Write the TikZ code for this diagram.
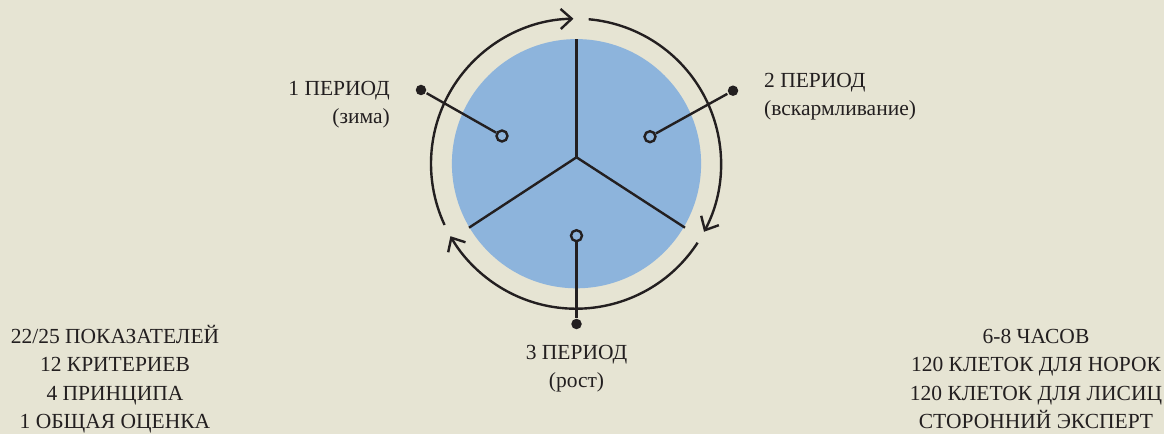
\documentclass[tikz,border=0pt]{standalone}
\usepackage{fontspec}
\setmainfont{Liberation Serif}
\usetikzlibrary{arrows.meta,calc}
\definecolor{bgBeige}{RGB}{230,228,211}
\definecolor{diskBlue}{RGB}{141,180,220}
\definecolor{inkDark}{RGB}{35,31,32}

\begin{document}
\begin{tikzpicture}[x=1pt,y=1pt,font=\fontsize{21.5}{28.4}\selectfont,
  line width=2.4pt,
  opendot/.style={circle,draw=inkDark,fill=diskBlue,line width=2.4pt,inner sep=0pt,minimum size=11pt},
  fulldot/.style={circle,fill=inkDark,inner sep=0pt,minimum size=10.5pt},
  cyc/.style={draw=inkDark,line width=2.4pt,-{Straight Barb[length=11pt,width=20pt,line width=2.4pt]}},
  txt/.style={text=inkDark,inner sep=0pt}]
\fill[bgBeige] (0,0) rectangle (1164,434);
\useasboundingbox (0,0) rectangle (1164,434);
% disk and spokes
\coordinate (ringc) at (576,270.3);
\coordinate (hub) at (576.5,276.7);
\fill[diskBlue] (576.5,270.3) circle (124.6);
\draw[inkDark] (hub) -- (576.5,395);
\draw[inkDark] (hub) -- (469,206.3);
\draw[inkDark] (hub) -- (685,206.3);
% cycle arrows
\foreach \a/\b in {205/91, 85/-28, -33/-150}{
  \draw[cyc] (ringc) ++(\a:145) arc[start angle=\a,end angle=\b,radius=145];
}
% pointers
\node[opendot] (p1in) at (502,298) {};
\node[fulldot] (p1out) at (421,344) {};
\node[opendot] (p2in) at (650,297.3) {};
\node[fulldot] (p2out) at (733,343.3) {};
\node[opendot] (p3in) at (576.5,198.3) {};
\node[fulldot] (p3out) at (576.5,110) {};
\draw[inkDark] (p1out) -- (p1in);
\draw[inkDark] (p2out) -- (p2in);
\draw[inkDark] (p3out) -- (p3in);
% labels
\node[txt,align=right,anchor=north east] (lab1) at (391,354) {1 ПЕРИОД\\(зима)};
\node[txt,align=left,anchor=north west] (lab2) at (763,362) {2 ПЕРИОД\\(вскармливание)};
\node[txt,align=center,anchor=north] (lab3) at (576.5,90) {3 ПЕРИОД\\(рост)};
\node[txt,align=center] (stats) at (115,55) {22/25 ПОКАЗАТЕЛЕЙ\\12 КРИТЕРИЕВ\\4 ПРИНЦИПА\\1 ОБЩАЯ ОЦЕНКА};
\node[txt,align=center] (setup) at (1036,55) {6-8 ЧАСОВ\\120 КЛЕТОК ДЛЯ НОРОК\\120 КЛЕТОК ДЛЯ ЛИСИЦ\\СТОРОННИЙ ЭКСПЕРТ};
\end{tikzpicture}
\end{document}
